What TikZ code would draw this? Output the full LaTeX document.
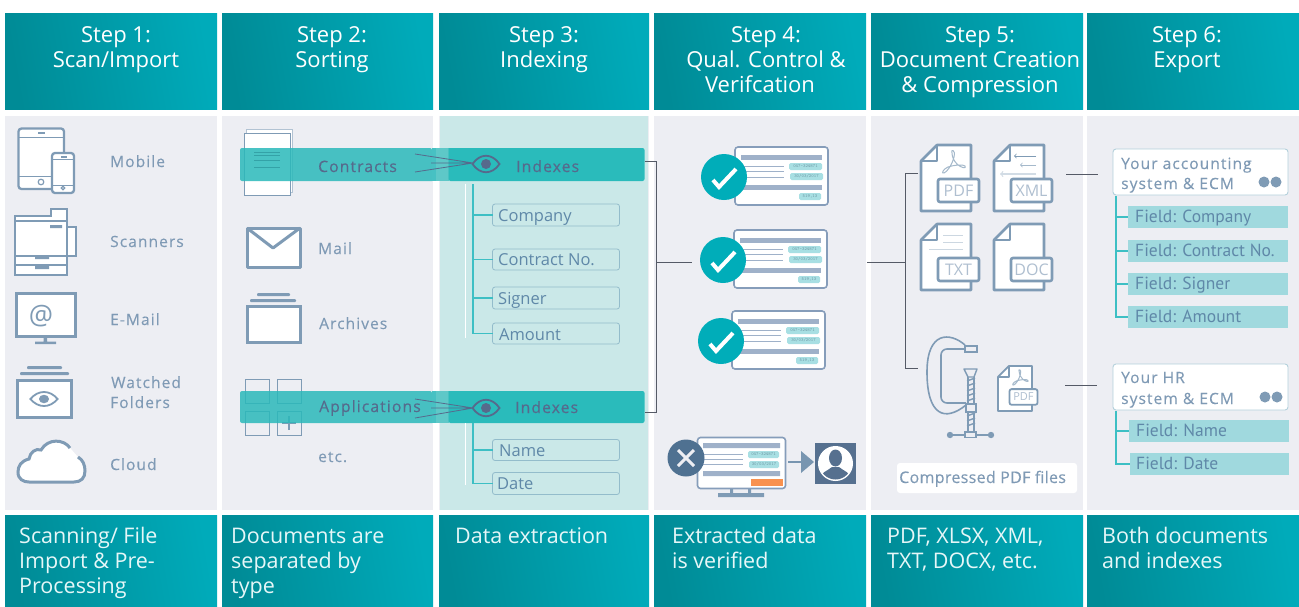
\documentclass[tikz,border=0pt]{standalone}
\usepackage{fontspec}
\setmainfont{Open Sans}
\newfontfamily\osHead{Open Sans}
\newfontfamily\osLab[LetterSpace=7,FakeBold=0.25]{Open Sans}
\newfontfamily\osCmp[LetterSpace=2,FakeBold=0.25]{Open Sans}
\newfontfamily\osBox{Open Sans}
\newfontfamily\osField{PT Sans}
\usetikzlibrary{calc}
\definecolor{panel}{HTML}{EDEEF3}
\definecolor{panelc}{HTML}{CAE8E8}
\definecolor{headl}{HTML}{008B96}
\definecolor{headr}{HTML}{00ABBA}
\definecolor{icon}{HTML}{7F9BB5}
\definecolor{labc}{HTML}{7F9AB5}
\definecolor{bandt}{HTML}{566A8C}
\definecolor{bandl}{RGB}{42,185,186}
\definecolor{bandr}{RGB}{15,180,180}
\definecolor{teal}{HTML}{3DBFC4}
\definecolor{conn}{HTML}{555A66}
\definecolor{boxe}{HTML}{93BCCB}
\definecolor{boxt}{HTML}{5F88A8}
\definecolor{fieldf}{HTML}{A0D9DE}
\definecolor{cardb}{HTML}{9FB1C9}
\definecolor{carde}{HTML}{869DBA}
\definecolor{tagf}{HTML}{A8DFE3}
\definecolor{tagt}{HTML}{6E9AA6}
\definecolor{okc}{HTML}{00ADB9}
\definecolor{noc}{HTML}{4F7191}
\definecolor{orangec}{HTML}{F8914F}
\definecolor{persc}{HTML}{56708F}
\definecolor{doct}{HTML}{AFBFD0}
\definecolor{foot}{HTML}{E6F7F8}
\newcommand\fHead{\fontsize{22}{25}\selectfont\osHead}
\newcommand\fFoot{\fontsize{21.5}{25}\selectfont\osHead}
\newcommand\fLab{\fontsize{15.5}{18}\selectfont\osLab}
\newcommand\fBand{\fontsize{15.7}{18}\selectfont\osLab}
\newcommand\fBox{\fontsize{16.5}{20}\selectfont\osBox}
\newcommand\fField{\fontsize{17.5}{20}\selectfont\osField}
\tikzset{
 headbox/.style={anchor=north west,inner sep=0,outer sep=0,left color=headl,right color=headr,shading angle=100},
 paneln/.style={anchor=north west,inner sep=0,outer sep=0,fill=panel},
 headt/.style={anchor=base,inner sep=0,text=white,font=\fHead},
 foott/.style={anchor=base west,inner sep=0,text=foot,font=\fFoot},
 labt/.style={anchor=base west,inner sep=0,text=labc,font=\fLab},
 bandtxt/.style={anchor=base west,inner sep=0,text=bandt,font=\fBand},
 idxb/.style={anchor=north west,inner sep=0,outer sep=0,draw=boxe,line width=.8pt,rounded corners=2.5pt},
 idxt/.style={anchor=base west,inner sep=0,text=boxt,font=\fBox},
 fieldb/.style={anchor=north west,inner sep=0,outer sep=0,fill=fieldf},
 fieldt/.style={anchor=base west,inner sep=0,text=boxt,font=\fField},
 sysb/.style={anchor=north west,inner sep=0,outer sep=0,fill=white,draw=boxe!70,line width=.9pt,rounded corners=3pt},
 ic/.style={draw=icon,line width=2.3pt},
 icthin/.style={draw=icon,line width=1pt},
 conline/.style={draw=conn,line width=1pt},
 branch/.style={draw=teal,line width=1.1pt},
 tagtx/.style={inner sep=0,text=tagt,font=\fontsize{4.6}{5}\selectfont\ttfamily},
}
\newcommand\headcol[3]{\node[headbox,minimum width=#2pt,minimum height=96pt] (h#3) at (#1,13) {};\node[paneln,minimum width=#2pt,minimum height=394pt] (p#3) at (#1,116) {};\node[headbox,minimum width=#2pt,minimum height=91pt] (f#3) at (#1,515) {};}
\newcommand\eyeic[4]{\begin{scope}[shift={(#1,#2)},yscale=#3]\draw[draw=#4,line width=1.8pt,fill=none] (-13.5,0) .. controls (-6,-11) and (6,-11) .. (13.5,0) .. controls (6,11) and (-6,11) .. (-13.5,0) -- cycle;\fill[#4] (0,0) circle (5);\end{scope}}
\newcommand\card[3]{\begin{scope}[shift={(#2,#3)}]
 \node[anchor=north west,inner sep=0,outer sep=0,minimum width=93pt,minimum height=58pt,fill=white,draw=carde,line width=1.6pt,rounded corners=3pt] (#1) at (0,0) {};
 \fill[cardb] (6,8) rectangle (87,13);\fill[cardb] (6,38) rectangle (87,43);
 \draw[cardb,line width=.8pt] (6,19) -- (49,19) (6,24) -- (49,24) (6,30) -- (49,30);
 \fill[tagf,rounded corners=1.5pt] (54,16) rectangle (87,23);\node[tagtx] (#1a) at (70.5,19.5) {047-324871};
 \fill[tagf,rounded corners=1.5pt] (55,26) rectangle (88,33);\node[tagtx] (#1b) at (71.5,29.5) {30/03/2017};
 \fill[tagf,rounded corners=1.5pt] (64,46) rectangle (86,53);\node[tagtx] (#1c) at (75,49.5) {519,13};
 \fill[okc] (-11,30) circle (23);
 \draw[white,line width=4pt] (-22,33) -- (-16,40) -- (1,22);
\end{scope}}
\newcommand\docic[7]{% name x y scale label fontsize content
 \begin{scope}[shift={(#2,#3)},scale=#4]
 \draw[ic,line width=#4*2.6pt,fill=white,line join=round] (0,16) -- (16,0) -- (50,0) -- (50,66) -- (0,66) -- cycle;
 \draw[ic,line width=#4*2.6pt,line join=round] (0,16) -- (16,16) -- (16,0);
 #7
 \draw[ic,line width=#4*2.6pt,fill=white,rounded corners=2pt] (17,34) rectangle (58,57);
 \node[inner sep=0,text=doct,font=\fontsize{#6}{#6}\selectfont] (#1) at (37.5,45.5) {#5};
 \end{scope}}
\newcommand\pdfglyph{\draw[draw=icon!70,line width=1pt,line join=round] (31,8) .. controls (29,4) and (35,4) .. (33,12) .. controls (31,20) and (26,27) .. (23,28) .. controls (20,29) and (22,24) .. (27,22) .. controls (33,20) and (42,19) .. (44,21) .. controls (46,24) and (40,23) .. (36,19) .. controls (33,16) and (31,12) .. (31,8) -- cycle;}
\newcommand\bandpair[6]{% y height rightname leftcolor-part
 \fill[bandl,fill opacity=.85,rounded corners=2pt] (432,#1+#2) -- (240,#1+#2) -- (240,#1) -- (432,#1) [sharp corners] -- cycle;
 \fill[HTMLa] (432,#1) rectangle (436,#1+#2);
 \fill[HTMLb] (436,#1) rectangle (448.5,#1+#2);
 \fill[bandr,fill opacity=.85,rounded corners=2pt] (448.5,#1) -- (644.5,#1) -- (644.5,#1+#2) -- (448.5,#1+#2) [sharp corners] -- cycle;
}
\definecolor{HTMLa}{HTML}{47C1C3}
\definecolor{HTMLb}{HTML}{5EC8C8}
\begin{document}
\begin{tikzpicture}[x=1pt,y=-1pt]
\useasboundingbox (0,0) rectangle (1299,606);
\fill[white] (0,0) rectangle (1299,606);
\headcol{5}{212}{1}
\headcol{222}{211}{2}
\headcol{439}{210}{3}
\headcol{654}{212}{4}
\headcol{871}{212}{5}
\headcol{1087}{212}{6}
\node[anchor=north west,inner sep=0,outer sep=0,fill=panelc,minimum width=208pt,minimum height=394pt] (p3c) at (440,116) {};
% header text
\node[headt] (t1a) at (116,42) {Step 1:};\node[headt] (t1b) at (116,67) {Scan/Import};
\node[headt] (t2a) at (332,42) {Step 2:};\node[headt] (t2b) at (332,67) {Sorting};
\node[headt] (t3a) at (544,42) {Step 3:};\node[headt] (t3b) at (544,67) {Indexing};
\node[headt] (t4a) at (766,42) {Step 4:};\node[headt] (t4b) at (766,67) {Qual. Control \&};\node[headt] (t4c) at (760,92) {Verifcation};
\node[headt] (t5a) at (980,42) {Step 5:};\node[headt] (t5b) at (980,67) {Document Creation};\node[headt] (t5c) at (980,92) {\& Compression};
\node[headt] (t6a) at (1187,42) {Step 6:};\node[headt] (t6b) at (1187,67) {Export};
% footer text
\node[foott] (b1a) at (19,543) {Scanning/ File};\node[foott] (b1b) at (19,568) {Import \& Pre-};\node[foott] (b1c) at (19,593) {Processing};
\node[foott] (b2a) at (231,543) {Documents are};\node[foott] (b2b) at (231,568) {separated by};\node[foott] (b2c) at (231,593) {type};
\node[foott] (b3a) at (455,543) {Data extraction};
\node[foott] (b4a) at (672,543) {Extracted data};\node[foott] (b4b) at (672,568) {is verified};
\node[foott] (b5a) at (887,543) {PDF, XLSX, XML,};\node[foott] (b5b) at (887,568) {TXT, DOCX, etc.};
\node[foott] (b6a) at (1102,543) {Both documents};\node[foott] (b6b) at (1102,568) {and indexes};
% --- panel 1 icons
\draw[ic,fill=white,rounded corners=3pt] (18.5,128.5) rectangle (64,189);
\draw[icthin] (18,137) -- (64,137) (18,176) -- (64,176);
\draw[icon,line width=1.4pt] (38,133) -- (45,133);
\draw[icthin,line width=1.2pt] (41,182) circle (2.8);
\draw[ic,fill=white,rounded corners=3pt] (52,153) rectangle (74,193);
\draw[icthin] (52,159) -- (74,159) (52,185) -- (74,185);
\draw[icon,line width=1.4pt] (61,157) -- (67,157);
\draw[icthin,line width=1.2pt] (63,188) circle (1.8);
\draw[ic,fill=white] (67,227) -- (76,227) -- (76,256) -- (67,256);
\draw[ic,fill=white,line width=1.8pt] (15,216) -- (51,216) -- (51,209) -- (67,209) -- (67,275) -- (15,275) -- cycle;
\draw[icthin,line width=1.5pt] (15,221) -- (67,221) (15,256) -- (67,256) (15,265) -- (67,265);
\fill[icon] (50,225) rectangle (62,228) (35,255) rectangle (49,259) (35,265) rectangle (49,269);
\draw[ic,line width=3pt,fill=white] (16.5,293.5) rectangle (75,336);
\fill[icon] (43.5,337) rectangle (47,342) (35,341.5) rectangle (56,344);
\node[inner sep=0,text=icon,font=\fontsize{27}{27}\selectfont] (atsign) at (41,316) {@};
\fill[icon,rounded corners=1pt] (27,366) rectangle (62,369) (20,372) rectangle (69,375);
\draw[ic,line width=3pt,fill=white] (17.5,380.5) rectangle (71.5,417);
\eyeic{44}{399}{.85}{icon}
\fill[white] (71,449) .. controls (64,439) and (48,438) .. (41,450) .. controls (36,448) and (30,452) .. (29,459) .. controls (21,461) and (18,466) .. (18,472) .. controls (18,479) and (23,482) .. (29,482) -- (74,482) .. controls (81,482) and (85,478) .. (85,471) .. controls (85,465) and (83,460) .. (78,457) -- cycle;
\draw[icon,line width=3pt] (70,448) .. controls (64,439) and (48,438) .. (41,450) .. controls (36,448) and (30,452) .. (29,459) .. controls (21,461) and (18,466) .. (18,472) .. controls (18,479) and (23,482) .. (29,482) -- (74,482) .. controls (81,482) and (85,478) .. (85,471) .. controls (85,465) and (83,460) .. (78,457);
\node[labt] (l1) at (110,167) {Mobile};
\node[labt] (l2) at (110,247) {Scanners};
\node[labt] (l3) at (110,325) {E-Mail};
\node[labt] (l4) at (111,388) {Watched};
\node[labt] (l5) at (110,408) {Folders};
\node[labt] (l6) at (110,470) {Cloud};
% --- panel 2 icons
\draw[draw=icon!60,line width=.7pt,fill=white] (246,129) rectangle (292,192);
\draw[draw=icon,line width=1pt,fill=white] (244,133) rectangle (290,195);
\draw[ic,line width=3pt,fill=white,line join=round] (247,228) rectangle (300,267);
\draw[ic,line width=3pt,line join=round] (247,228) -- (273,248) -- (300,228);
\node[labt] (l7) at (318,254) {Mail};
\fill[icon,rounded corners=1pt] (257,293) rectangle (290,296) (250,299) rectangle (296,302);
\draw[ic,line width=3pt,fill=white] (247,306) rectangle (300,342);
\node[labt] (l8) at (319,329) {Archives};
\foreach \gx/\gy/\gn in {245/379/a,277/379/b,245/411/c,277/411/d}{\draw[draw=icon,line width=.9pt] (\gx,\gy) rectangle ++(24,24);}
\draw[draw=icon,line width=1.2pt] (282,423) -- (296,423) (289,416) -- (289,430);
\node[labt] (l9) at (318,462) {etc.};
% --- bands
\bandpair{148}{33}{}{}{}{}
\bandpair{391}{32}{}{}{}{}
\coordinate (band1) at (644.5,164.5);
\coordinate (band2) at (644.5,407);
\draw[draw=teal!85!black,line width=.7pt] (254,152) -- (280,152) (254,155) -- (280,155) (254,160) -- (280,160) (254,167) -- (280,167);
\node[bandtxt] (c1) at (318,172) {Contracts};
\node[bandtxt] (c2) at (319,412) {Applications};
\node[bandtxt] (c3) at (516,172) {Indexes};
\node[bandtxt] (c4) at (515,413) {Indexes};
\coordinate (eye1) at (486,164);\coordinate (eye2) at (486,408);
\eyeic{486}{164}{1}{bandt}
\eyeic{486}{408}{1}{bandt}
\coordinate (e1a) at (415,154);\coordinate (e1b) at (431,163);\coordinate (e1c) at (415,172);
\coordinate (e2a) at (415,399);\coordinate (e2b) at (431,408);\coordinate (e2c) at (415,418);
\draw[draw=bandt,line width=.8pt] (e1a) -- ($(eye1)+(-13,-1)$) (e1b) -- ($(eye1)+(-13,-1)$) (e1c) -- ($(eye1)+(-13,-1)$);
\draw[draw=bandt,line width=.8pt] (e2a) -- ($(eye2)+(-13,0)$) (e2b) -- ($(eye2)+(-13,0)$) (e2c) -- ($(eye2)+(-13,0)$);
% --- panel 3 tree
\node[idxb,minimum width=127pt,minimum height=22pt] (i1) at (492.5,204) {};
\node[idxb,minimum width=127pt,minimum height=21pt] (i2) at (492.5,249) {};
\node[idxb,minimum width=127pt,minimum height=22pt] (i3) at (492.5,287) {};
\node[idxb,minimum width=127pt,minimum height=21pt] (i4) at (492.5,323) {};
\node[idxb,minimum width=127pt,minimum height=21pt] (i5) at (492.5,439.5) {};
\node[idxb,minimum width=127pt,minimum height=22pt] (i6) at (492.5,472.5) {};
\node[idxt] (it1) at (498,221) {Company};
\node[idxt] (it2) at (498,265) {Contract No.};
\node[idxt] (it3) at (498,304) {Signer};
\node[idxt] (it4) at (499,340) {Amount};
\node[idxt] (it5) at (499,456) {Name};
\node[idxt] (it6) at (497,489) {Date};
\coordinate (tr1) at (473,184);\coordinate (tr2) at (473,423);
\draw[white,line width=.8pt] (465.5,184) -- (465.5,338) (465.5,423) -- (465.5,485);
\draw[branch] (tr1) |- (i4.west);
\draw[branch] (tr1 |- i1.west) -- (i1.west);
\draw[branch] (tr1 |- i2.west) -- (i2.west);
\draw[branch] (tr1 |- i3.west) -- (i3.west);
\draw[branch] (tr2) |- (i6.west);
\draw[branch] (tr2 |- i5.west) -- (i5.west);
% --- panel 4
\card{cd1}{735}{147}
\card{cd2}{734}{230}
\card{cd3}{732}{311}
\node[anchor=north west,inner sep=0,outer sep=0,minimum width=88pt,minimum height=51pt,fill=white,draw=carde,line width=1.6pt,rounded corners=3pt] (cd4) at (697.5,437.5) {};
\fill[icon] (730,489) rectangle (733,494) (748,489) rectangle (751,494) (718,493) rectangle (764,497);
\fill[cardb] (703,443) rectangle (780,448) (703,471) rectangle (780,476);
\draw[cardb,line width=.8pt] (700,454) -- (743,454) (700,459) -- (743,459) (700,464) -- (743,464);
\fill[tagf,rounded corners=1.5pt] (748,451) rectangle (779,458);\node[tagtx] (cd4a) at (763.5,454.5) {047-324871};
\fill[tagf,rounded corners=1.5pt] (749,461) rectangle (779,468);\node[tagtx] (cd4b) at (764,464.5) {30/03/2017};
\fill[orangec] (751,479) rectangle (783,486);
\fill[noc] (686,458) circle (18.5);
\draw[panel,line width=3pt] (678,450) -- (694,466) (694,450) -- (678,466);
\node[anchor=north west,inner sep=0,outer sep=0,minimum width=41pt,minimum height=41pt,fill=persc] (pers) at (815,443) {};
\fill[white] (pers.center) circle (17.5);
\begin{scope}
\clip (pers.center) circle (16);
\fill[persc] (835.5,458) ellipse (6.5 and 8.5);
\fill[persc] (818,484) .. controls (820,471) and (828,471) .. (832,467) -- (839,467) .. controls (843,471) and (851,471) .. (853,484) -- cycle;
\end{scope}
\coordinate (arr) at (801,462);
\draw[draw=icon!85!noc,line width=2pt] (788,462) -- (arr);
\fill[icon!85!noc] (801,451) -- (814,462) -- (801,473) -- cycle;
% --- connectors
\coordinate (jV) at (656,262);\coordinate (jT) at (656,161.5);\coordinate (jB) at (656,412);
\coordinate (kIn) at (692,262);\coordinate (kOut) at (867,262);
\coordinate (kV) at (905,262);\coordinate (kT) at (918,173);\coordinate (kB) at (918,368);
\draw[conline] (band1 |- jT) -- (jT) -- (jB) -- (band2 |- jB);
\draw[conline] (jV) -- (kIn);
\draw[conline] (kOut) -- (kV);
\draw[conline] (kT) -| (kV |- kB) -- (kB);
% --- panel 5
\docic{dpdf}{921}{145}{1}{PDF}{16}{\pdfglyph}
\docic{dxml}{994}{145}{1}{XML}{16}{%
 \draw[draw=icon,line width=.8pt,->,>=to] (42,11) -- (20,11);
 \draw[draw=icon!70,line width=.8pt,->,>=to] (42,20) -- (26,20);
 \draw[draw=icon!35,line width=1.2pt,->,>=to] (42,29) -- (6,29);}
\docic{dtxt}{921}{224}{1}{TXT}{16}{%
 \draw[draw=icon!40,line width=.8pt] (22,11) -- (42,11) (22,18) -- (42,18) (8,25) -- (42,25);}
\docic{ddoc}{994}{224}{1}{DOC}{16}{}
\docic{dsmall}{998}{366}{.68}{PDF}{11}{\pdfglyph}
% clamp
\draw[icon,line width=1.6pt,line join=round] (965,345) .. controls (950,332) and (927,331) .. (927,372) .. controls (927,416) and (945,422) .. (966,405);
\draw[icon,line width=1.6pt,line join=round,rounded corners=6pt] (965,349) -- (941,349) -- (941,403) -- (966,403);
\draw[icon,line width=1.4pt,fill=panel] (965,346) rectangle (977,352);
\draw[icon,line width=1.4pt] (968,377) -- (968,432) (974,377) -- (974,432);
\foreach \ty in {381,386,391,396,401,416,421,426}{\draw[icon,line width=1.4pt] (967,\ty) -- (975,\ty-3);}
\draw[icon,line width=1.4pt,fill=panel,line join=round] (964,369) -- (977,369) -- (974,377) -- (968,377) -- cycle;
\draw[icon,line width=1.6pt,fill=panel] (966,404) rectangle (976,412);
\draw[icon,line width=1.6pt] (950,435) -- (991,435);
\fill[icon] (950,435) circle (3.2) (991,435) circle (3.2);
\draw[icon,line width=1.4pt,fill=panel] (965,432) rectangle (976,437.5);
\node[anchor=north west,inner sep=0,outer sep=0,minimum width=180pt,minimum height=30pt,fill=white,rounded corners=3pt] (cmp) at (897,463) {};
\node[inner sep=0,anchor=base west,text=labc,font=\fontsize{16}{18}\selectfont\osCmp] (cmpt) at (899,483) {Compressed PDF files};
% --- panel 6
\node[sysb,minimum width=175pt,minimum height=46pt] (s1) at (1113,149) {};
\node[sysb,minimum width=175pt,minimum height=46pt] (s2) at (1113,364) {};
\node[labt] (s1a) at (1121,169) {Your accounting};
\node[labt] (s1b) at (1121,189) {system \& ECM};
\node[labt] (s2a) at (1121,383) {Your HR};
\node[labt] (s2b) at (1121,404) {system \& ECM};
\fill[icon] (1264,182) circle (5.5) (1276,182) circle (5.5) (1265,397) circle (5.5) (1277,397) circle (5.5);
\coordinate (sIn1) at (1066,174);\coordinate (sOut1) at (1098,174);
\coordinate (sIn2) at (1065,385);\coordinate (sOut2) at (1097,385);
\draw[conline] (sIn1) -- (sOut1);
\draw[conline] (sIn2) -- (sOut2);
\node[fieldb,minimum width=160pt,minimum height=22pt] (g1) at (1128,206) {};
\node[fieldb,minimum width=160pt,minimum height=22pt] (g2) at (1128,240) {};
\node[fieldb,minimum width=160pt,minimum height=22pt] (g3) at (1128,273) {};
\node[fieldb,minimum width=160pt,minimum height=22pt] (g4) at (1128,306) {};
\node[fieldb,minimum width=160pt,minimum height=22pt] (g5) at (1129,420) {};
\node[fieldb,minimum width=159pt,minimum height=22pt] (g6) at (1130,453) {};
\node[fieldt] (gt1) at (1135,222) {Field: Company};
\node[fieldt] (gt2) at (1135,256) {Field: Contract No.};
\node[fieldt] (gt3) at (1135,289) {Field: Signer};
\node[fieldt] (gt4) at (1135,322) {Field: Amount};
\node[fieldt] (gt5) at (1136,436) {Field: Name};
\node[fieldt] (gt6) at (1136,469) {Field: Date};
\coordinate (u1) at (1116,196);\coordinate (u2) at (1116,411);
\draw[branch] (u1) |- (g4.west);
\draw[branch] (u1 |- g1.west) -- (g1.west);
\draw[branch] (u1 |- g2.west) -- (g2.west);
\draw[branch] (u1 |- g3.west) -- (g3.west);
\draw[branch] (u2) |- (g6.west);
\draw[branch] (u2 |- g5.west) -- (g5.west);
\end{tikzpicture}
\end{document}
